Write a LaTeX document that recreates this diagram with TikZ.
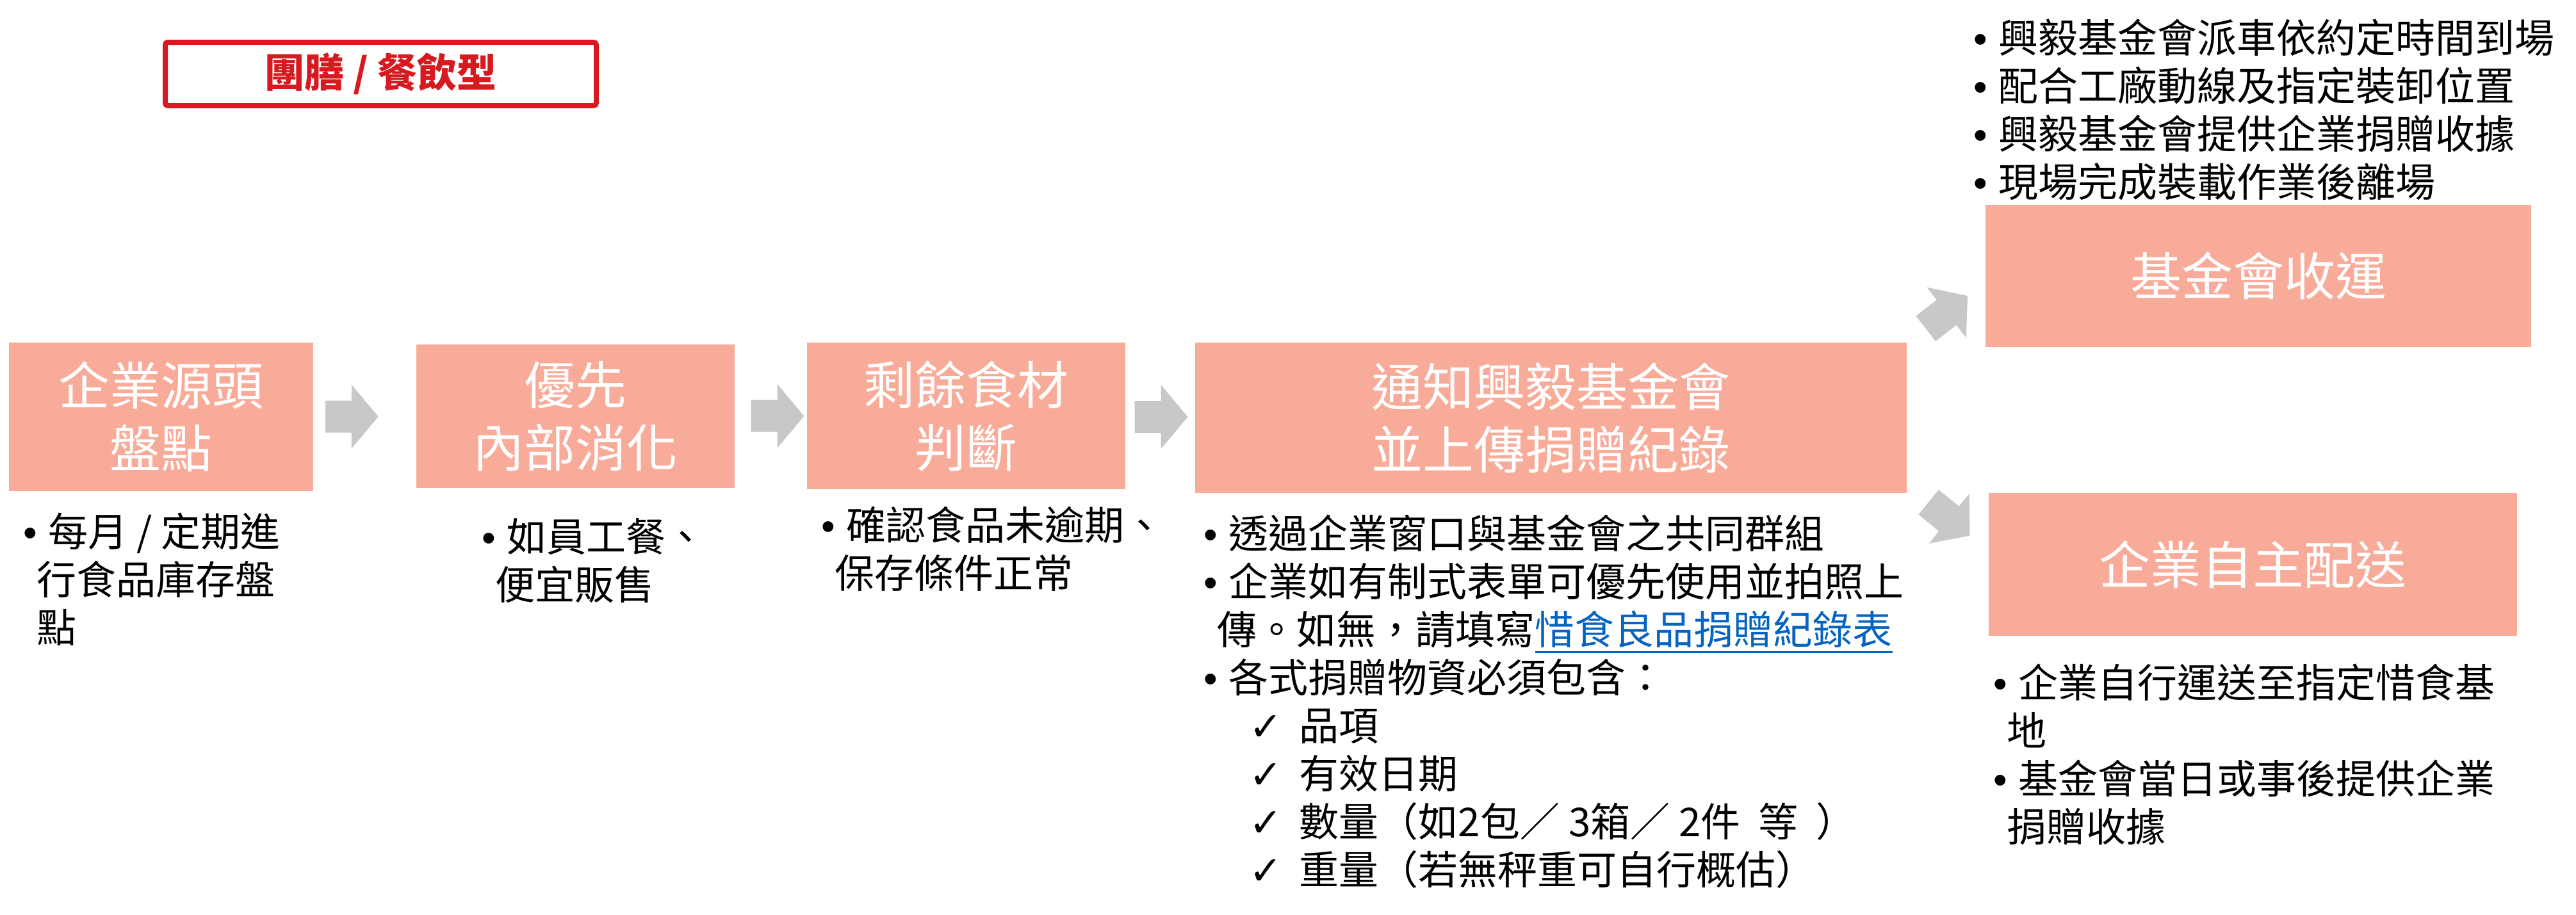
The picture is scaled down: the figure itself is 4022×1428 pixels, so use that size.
\documentclass[tikz,border=0pt]{standalone}
\usepackage{fontspec}
\setmainfont{Noto Sans CJK TC}
\newfontfamily\checkfont{DejaVu Sans}
\newfontfamily\bulletfont{Liberation Sans}
\usepackage{tikz}
\usetikzlibrary{calc}

\definecolor{boxsalmon}{HTML}{F8AB99}
\definecolor{arrowgray}{HTML}{C8C8C8}
\definecolor{typered}{HTML}{D71920}
\definecolor{linkblue}{HTML}{0563C1}

\newcommand{\bul}{\makebox[9.75pt][l]{\bulletfont •}}
\newcommand{\contind}{\hspace*{5.25pt}}
\newcommand{\chk}{\hspace*{17.75pt}\makebox[19.5pt][l]{\checkfont ✓}}
\newcommand{\reclink}[1]{\textcolor{linkblue}{\setbox0\hbox{#1}\rlap{\rule[-3.4pt]{\wd0}{0.75pt}}\box0}}

\tikzset{
  stepbox/.style={fill=boxsalmon, text=white, inner sep=0pt, align=center,
    font=\fontsize{20pt}{24.5pt}\selectfont},
  notes/.style={anchor=north west, inner sep=0pt, align=left,
    font=\fontsize{15.5pt}{18.75pt}\selectfont},
  typebox/.style={draw=typered, line width=2pt, rounded corners=1pt, text=typered,
    inner sep=0pt, minimum width=168.25pt, minimum height=24.75pt,
    font=\fontsize{15.5pt}{18pt}\selectfont\bfseries},
  pics/fatarrow/.style={code={
    \fill[arrowgray] (-41,-25) -- (0,-25) -- (0,-50) -- (42,0) -- (0,50) -- (0,25) -- (-41,25) -- cycle;}}
}

\begin{document}
\begin{tikzpicture}[x=0.25pt,y=-0.25pt]
    \useasboundingbox (0,0) rectangle (4022,1428);

    % Type label
    \node[typebox] (type) at (594.5,115.5) {團膳 / 餐飲型};

    % Steps
    \node[stepbox,minimum width=118.75pt,minimum height=58pt] (src) at (251.5,651) {企業源頭\\盤點};
    \node[stepbox,minimum width=124.25pt,minimum height=56pt] (inhouse) at (898.5,650) {優先\\內部消化};
    \node[stepbox,minimum width=124.25pt,minimum height=57.25pt] (judge) at (1508.5,649.5) {剩餘食材\\判斷};
    \node[stepbox,minimum width=277.75pt,minimum height=58.75pt] (notify) at (2421.5,652.5) {通知興毅基金會\\並上傳捐贈紀錄};
    \node[stepbox,minimum width=213pt,minimum height=55.5pt] (pickup) at (3526,431) {基金會收運};
    \node[stepbox,minimum width=206.25pt,minimum height=55.75pt] (selfdel) at (3517.5,881.5) {企業自主配送};

    % Arrows
    \pic at ($(src.east)!0.37!(inhouse.west)$) {fatarrow};
    \pic at ($(inhouse.east)!0.59!(judge.west)$) {fatarrow};
    \pic at ($(judge.east)!0.51!(notify.west)$) {fatarrow};
    \pic[rotate=38] at (3039,488) {fatarrow};
    \pic[rotate=-39] at (3043,810) {fatarrow};

    % Notes under the steps
    \node[notes] (srcnote) at (36,800) {\bul 每月 / 定期進\\\contind 行食品庫存盤\\\contind 點};
    \node[notes] (inhousenote) at (752,809) {\bul 如員工餐、\\\contind 便宜販售};
    \node[notes] (judgenote) at (1282,790) {\bul 確認食品未逾期、\\\contind 保存條件正常};
    \node[notes] (notifynote) at (1879,803) {\bul 透過企業窗口與基金會之共同群組\\
      \bul 企業如有制式表單可優先使用並拍照上\\
      \contind 傳。如無，請填寫\reclink{惜食良品捐贈紀錄表}\\
      \bul 各式捐贈物資必須包含：\\
      \chk 品項\\
      \chk 有效日期\\
      \chk 數量（如2包／ 3箱／ 2件~~等~~）\\
      \chk 重量（若無秤重可自行概估）};
    \node[notes] (pickupnote) at (3081,29) {\bul 興毅基金會派車依約定時間到場\\
      \bul 配合工廠動線及指定裝卸位置\\
      \bul 興毅基金會提供企業捐贈收據\\
      \bul 現場完成裝載作業後離場};
    \node[notes] (selfdelnote) at (3112,1036) {\bul 企業自行運送至指定惜食基\\
      \contind 地\\
      \bul 基金會當日或事後提供企業\\
      \contind 捐贈收據};
\end{tikzpicture}
\end{document}
